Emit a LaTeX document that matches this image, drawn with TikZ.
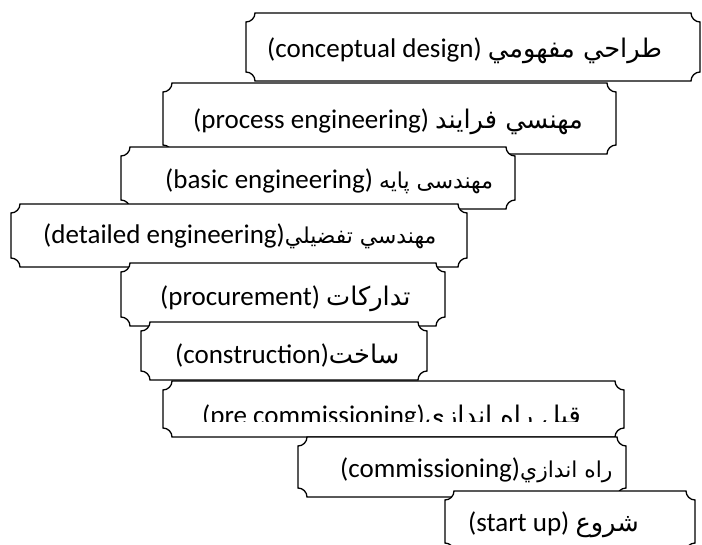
\documentclass[tikz,border=0pt]{standalone}
\usepackage{fontspec}
\setmainfont{Carlito}
\newfontfamily\arabicfont[Script=Arabic,Scale=0.95]{DejaVu Sans}
\TeXXeTstate=1
\newcommand\farsi[1]{{\arabicfont\beginR #1\endR}}
\newcommand\farsismall[1]{{\fontsize{23}{28}\selectfont\farsi{#1}}}
\def\plaquer{9}
% plaque with concave corners: x1 y1 x2 y2 (y counted downwards)
\newcommand\plaque[4]{%
 \filldraw[plaqueline] ({#1+\plaquer},#2) -- ({#3-\plaquer},#2)
  .. controls ({#3-\plaquer},{#2+.55*\plaquer}) and ({#3-.55*\plaquer},{#2+\plaquer}) .. (#3,{#2+\plaquer})
  -- (#3,{#4-\plaquer})
  .. controls ({#3-.55*\plaquer},{#4-\plaquer}) and ({#3-\plaquer},{#4-.55*\plaquer}) .. ({#3-\plaquer},#4)
  -- ({#1+\plaquer},#4)
  .. controls ({#1+\plaquer},{#4-.55*\plaquer}) and ({#1+.55*\plaquer},{#4-\plaquer}) .. (#1,{#4-\plaquer})
  -- (#1,{#2+\plaquer})
  .. controls ({#1+.55*\plaquer},{#2+\plaquer}) and ({#1+\plaquer},{#2+.55*\plaquer}) .. cycle;}
\tikzset{
 plaqueline/.style={draw=black,fill=white,line width=1.3pt},
 stagetext/.style={font=\fontsize{27}{30}\selectfont,anchor=base west,inner sep=0pt}
}
\begin{document}
\begin{tikzpicture}[x=1pt,y=-1pt]
\useasboundingbox (0,0) rectangle (702,544);
\foreach \n/\xa/\ya/\xb/\yb/\tx/\ty/\cy/\txt in {
 conceptual/246/13/700/81/267/57/81/{(conceptual design) \farsi{طراحي مفهومي}},
 process/163/83/616/154/193/128/154/{(process engineering) \farsi{مهنسي فرايند}},
 basic/121/147/515/209/165/188/193/{(basic engineering) \farsismall{مهندسی پایه}},
 detailed/11/204/467/267/43/243/267/{(detailed engineering)\farsismall{مهندسي تفضيلي}},
 procurement/121/263/445/326/160/305/326/{(procurement) \farsi{تداركات}},
 construction/141/322/427/380/175/363/380/{(construction)\farsi{ساخت}},
 precomm/163/381/624/437/202/424/421/{(pre commissioning)\farsi{قبل راه اندازی}},
 comm/298/437/626/497/340/477/497/{(commissioning)\farsismall{راه اندازي}},
 startup/445/491/695/552/468/531/552/{(start up) \farsi{شروع}}} {
 \plaque{\xa}{\ya}{\xb}{\yb}
 \begin{scope}
  \clip (\xa,\ya) rectangle (\xb,\cy);
  \node[stagetext] (\n) at (\tx,\ty) {\txt};
 \end{scope}
}
\end{tikzpicture}
\end{document}
